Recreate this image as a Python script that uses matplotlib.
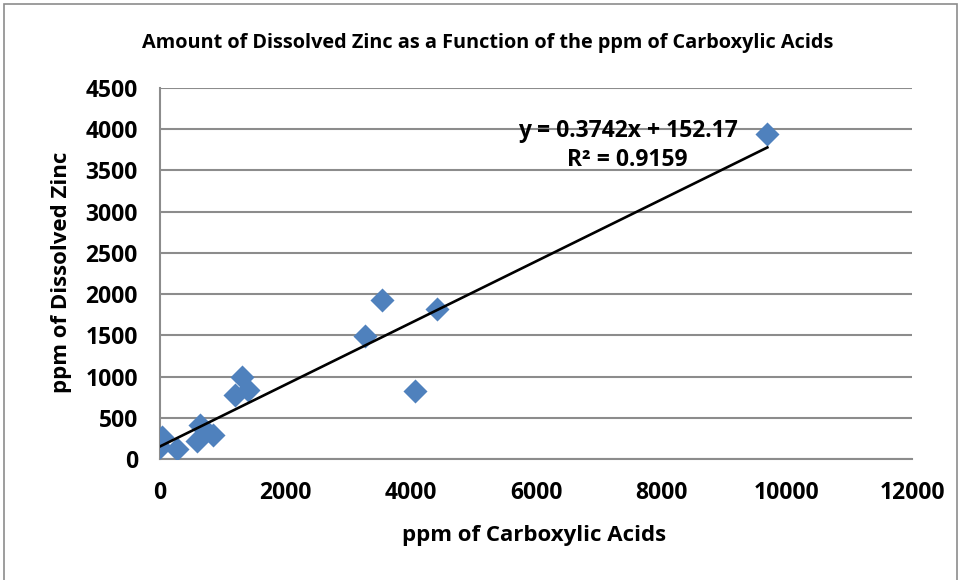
import matplotlib
matplotlib.use("Agg")
import matplotlib.pyplot as plt
from matplotlib.patches import Rectangle
import numpy as np

# Data
carboxylic_ppm = [27, 0, 266, 638, 585, 850, 1303, 1196, 1408, 4075, 3535, 3270, 4423, 9692]
zinc_ppm = [264, 150, 122, 414, 223, 292, 994, 779, 831, 825, 1934, 1488, 1821, 3942]
slope = 0.3742
intercept = 152.17
r_squared = 0.9159
x_ticks = [0, 2000, 4000, 6000, 8000, 10000, 12000]
y_ticks = [0, 500, 1000, 1500, 2000, 2500, 3000, 3500, 4000, 4500]

plt.rcParams['font.family'] = ['Open Sans', 'DejaVu Sans']
plt.rcParams['font.weight'] = 'bold'

fig = plt.figure(figsize=(9.62, 5.8), dpi=100)
fig.patch.set_facecolor('white')
fig.add_artist(Rectangle((4/962, -0.01), 953/962, 1 - 4/580 + 0.01, transform=fig.transFigure,
                         fill=False, edgecolor='#8c8c8c', linewidth=1.2))

ax = fig.add_axes([160/962, 1 - 459/580, (912 - 160)/962, (459 - 88)/580])
ax.set_xlim(0, 12000)
ax.set_ylim(0, 4500)
ax.set_xticks(x_ticks)
ax.set_yticks(y_ticks)
ax.yaxis.grid(True, color='#8c8c8c', linewidth=1.5)
ax.set_axisbelow(True)
for s in ['top', 'right']:
    ax.spines[s].set_visible(False)
for s in ['left', 'bottom']:
    ax.spines[s].set_color('#8c8c8c')
    ax.spines[s].set_linewidth(1.5)
ax.tick_params(length=0, labelsize=16.5)
for lab in ax.get_xticklabels() + ax.get_yticklabels():
    lab.set_fontweight('bold')
ax.tick_params(axis='x', pad=16)
ax.tick_params(axis='y', pad=16)

ax.scatter(carboxylic_ppm, zinc_ppm, marker='D', s=150, color='#4F81BD', zorder=3, linewidths=0)
xs = np.array([0, max(carboxylic_ppm)])
ax.plot(xs, slope * xs + intercept, color='black', linewidth=1.9, zorder=4)

ax.annotate(f"y = {slope}x + {intercept}", xy=(628 / 962, 1 - 131 / 580), xycoords='figure fraction',
            fontsize=16.5, fontweight='bold', ha='center', va='center', zorder=5)
ax.annotate(f"R² = {r_squared}", xy=(627 / 962, 1 - 160 / 580), xycoords='figure fraction',
            fontsize=16.5, fontweight='bold', ha='center', va='center', zorder=5)

fig.text(488 / 962, 1 - 43 / 580, "Amount of Dissolved Zinc as a Function of the ppm of Carboxylic Acids",
         fontsize=14.3, fontweight='bold', ha='center', va='center')
fig.text(534 / 962, 1 - 536 / 580, "ppm of Carboxylic Acids", fontsize=16, fontweight='bold',
         ha='center', va='center')
fig.text(62 / 962, 1 - 272 / 580, "ppm of Dissolved Zinc", fontsize=16, fontweight='bold',
         ha='center', va='center', rotation=90)

fig.savefig("out.png", dpi=100)
